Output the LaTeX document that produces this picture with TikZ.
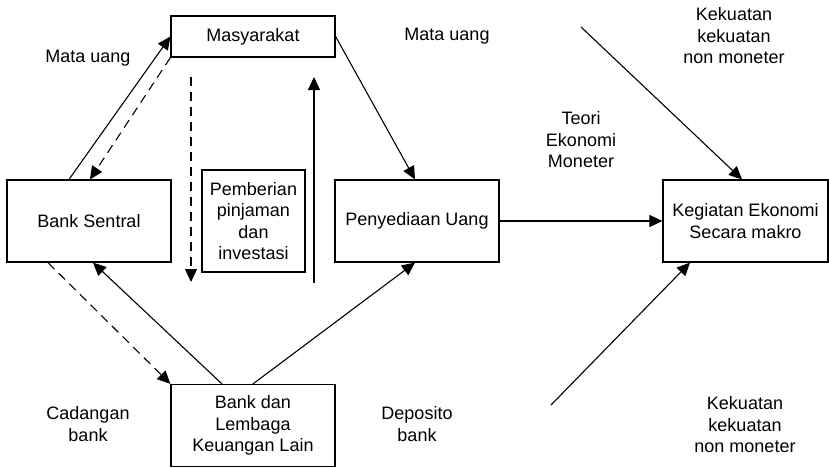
\documentclass[tikz,border=0pt]{standalone}
\usepackage{fontspec}
\setmainfont{Liberation Sans}
\usetikzlibrary{arrows.meta}
\begin{document}
\begin{tikzpicture}[x=1pt,y=-1pt,
  every node/.style={font=\fontsize{18}{21.5}\selectfont, align=center, inner sep=0pt},
  box/.style={draw, line width=1.2pt, rectangle},
  conn/.style={line width=1.1pt, -{Triangle[length=13pt,width=12pt]}},
  dconn/.style={conn, dash pattern=on 9pt off 6pt},
  lbl/.style={}]
\useasboundingbox (0,0) rectangle (829,467);
% boxes
\node[box, minimum width=164pt, minimum height=41pt] (mas) at (253,36.5) {Masyarakat};
\node[box, minimum width=164pt, minimum height=82pt] (bs) at (89,221) {Bank Sentral};
\node[box, minimum width=103pt, minimum height=102pt] (pem) at (253.5,221) {Pemberian\\pinjaman\\dan\\investasi};
\node[box, minimum width=164pt, minimum height=82pt] (pu) at (417,221) {Penyediaan Uang};
\node[box, minimum width=165pt, minimum height=82pt] (keg) at (745.5,221) {Kegiatan Ekonomi\\Secara makro};
\node[box, minimum width=164pt, minimum height=82pt] (bl) at (253,425.5) {Bank dan\\Lembaga\\Keuangan Lain};
% labels
\node[lbl] (l1) at (88,58) {Mata uang};
\node[lbl] (l2) at (447,36) {Mata uang};
\node[lbl] (l3) at (581,140) {Teori\\Ekonomi\\Moneter};
\node[lbl] (l4) at (734,36) {Kekuatan\\kekuatan\\non moneter};
\node[lbl] (l5) at (745,425) {Kekuatan\\kekuatan\\non moneter};
\node[lbl] (l6) at (88,424) {Cadangan\\bank};
\node[lbl] (l7) at (417,424) {Deposito\\bank};
% free ends
\coordinate (d1) at (191,77);
\coordinate (d2) at (191,282);
\coordinate (u1) at (314,283);
\coordinate (u2) at (314,77);
\coordinate (k1) at (581,27);
\coordinate (k2) at (551,405);
% connectors
\draw[conn] ([xshift=-20pt]bs.north) -- (mas.west);
\draw[dconn] (mas.south west) -- ([xshift=1pt]bs.north);
\draw[dconn] (d1) -- (d2);
\draw[conn] (u1) -- (u2);
\draw[conn] (mas.east) -- ([xshift=-2pt]pu.north);
\draw[conn] ([xshift=-31pt]bl.north) -- ([xshift=4pt]bs.south);
\draw[dconn] ([xshift=-41pt]bs.south) -- (bl.north west);
\draw[conn] (bl.north) -- ([xshift=-2pt]pu.south);
\draw[conn] (pu.east) -- (keg.west);
\draw[conn] (k1) -- ([xshift=-3.5pt]keg.north);
\draw[conn] (k2) -- ([xshift=-55.5pt]keg.south);
\end{tikzpicture}
\end{document}
